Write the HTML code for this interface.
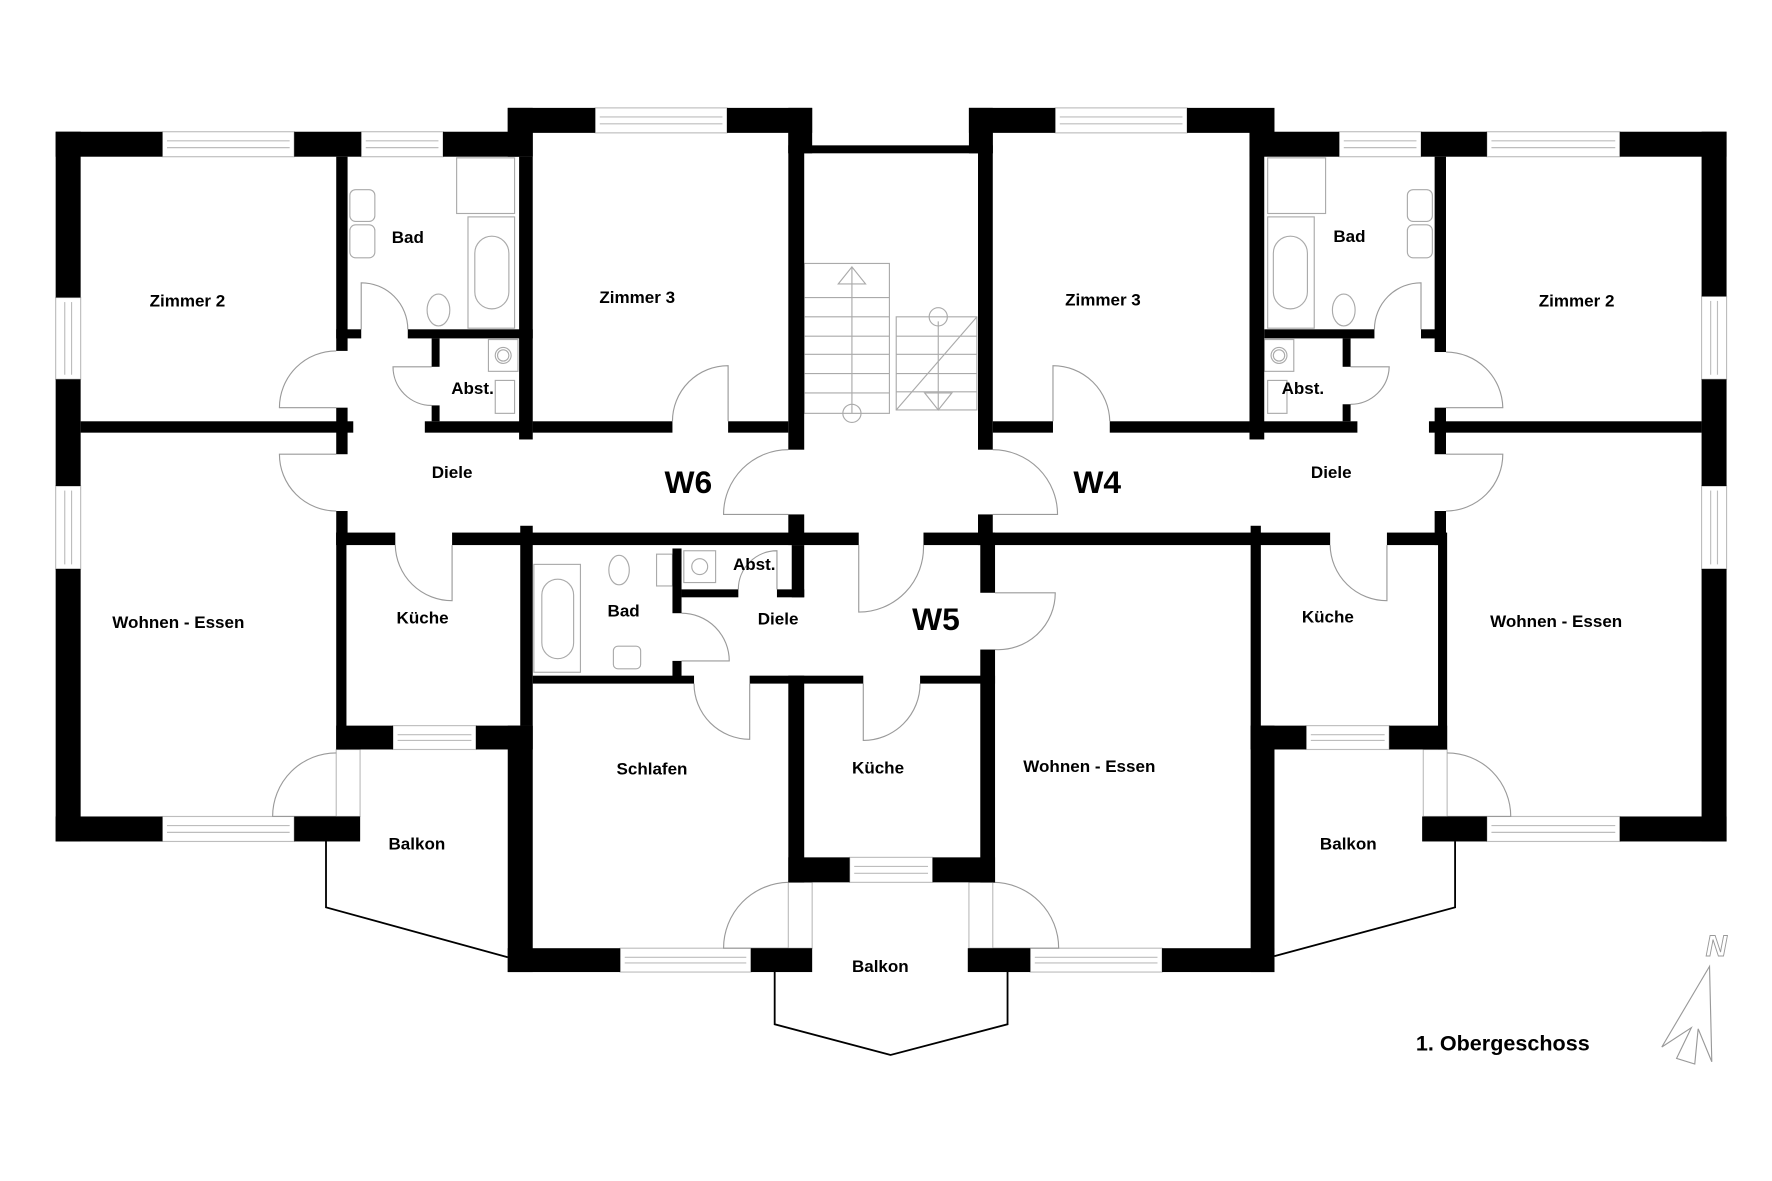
<!DOCTYPE html>
<html><head><meta charset="utf-8"><style>
html,body{margin:0;padding:0;background:#fff;}
svg{display:block;}
text{font-family:"Liberation Sans",Arial,sans-serif;font-weight:bold;fill:#000;}
</style></head><body>
<svg width="1772" height="1181" viewBox="0 0 1560 1040" preserveAspectRatio="none" xmlns="http://www.w3.org/2000/svg">
<rect width="1560" height="1040" fill="#fff"/>
<!-- windows (gray) -->
<g fill="none" stroke="#bdbdbd" stroke-width="1">
<rect x="143" y="116" width="116" height="22"/><line x1="147" y1="124" x2="255" y2="124"/><line x1="147" y1="130" x2="255" y2="130"/>
<rect x="318" y="116" width="72" height="22"/><line x1="322" y1="124" x2="386" y2="124"/><line x1="322" y1="130" x2="386" y2="130"/>
<rect x="524" y="95" width="116" height="22"/><line x1="528" y1="103" x2="636" y2="103"/><line x1="528" y1="109" x2="636" y2="109"/>
<rect x="929" y="95" width="116" height="22"/><line x1="933" y1="103" x2="1041" y2="103"/><line x1="933" y1="109" x2="1041" y2="109"/>
<rect x="1179" y="116" width="72" height="22"/><line x1="1183" y1="124" x2="1247" y2="124"/><line x1="1183" y1="130" x2="1247" y2="130"/>
<rect x="1309" y="116" width="117" height="22"/><line x1="1313" y1="124" x2="1422" y2="124"/><line x1="1313" y1="130" x2="1422" y2="130"/>
<rect x="49" y="262" width="22" height="72"/><line x1="57" y1="266" x2="57" y2="330"/><line x1="63" y1="266" x2="63" y2="330"/>
<rect x="49" y="428" width="22" height="73"/><line x1="57" y1="432" x2="57" y2="497"/><line x1="63" y1="432" x2="63" y2="497"/>
<rect x="1498" y="261" width="22" height="73"/><line x1="1506" y1="265" x2="1506" y2="330"/><line x1="1512" y1="265" x2="1512" y2="330"/>
<rect x="1498" y="428" width="22" height="73"/><line x1="1506" y1="432" x2="1506" y2="497"/><line x1="1512" y1="432" x2="1512" y2="497"/>
<rect x="143" y="719" width="116" height="22"/><line x1="147" y1="727" x2="255" y2="727"/><line x1="147" y1="733" x2="255" y2="733"/>
<rect x="1309" y="719" width="117" height="22"/><line x1="1313" y1="727" x2="1422" y2="727"/><line x1="1313" y1="733" x2="1422" y2="733"/>
<rect x="346" y="639" width="73" height="21"/><line x1="350" y1="647" x2="415" y2="647"/><line x1="350" y1="652" x2="415" y2="652"/>
<rect x="1150" y="639" width="73" height="21"/><line x1="1154" y1="647" x2="1219" y2="647"/><line x1="1154" y1="652" x2="1219" y2="652"/>
<rect x="748" y="755" width="73" height="22"/><line x1="752" y1="763" x2="817" y2="763"/><line x1="752" y1="769" x2="817" y2="769"/>
<rect x="546" y="835" width="115" height="21"/><line x1="550" y1="843" x2="657" y2="843"/><line x1="550" y1="848" x2="657" y2="848"/>
<rect x="907" y="835" width="116" height="21"/><line x1="911" y1="843" x2="1019" y2="843"/><line x1="911" y1="848" x2="1019" y2="848"/>
<!-- door frames -->
<rect x="296" y="660" width="21" height="59"/><rect x="1253" y="660" width="21" height="59"/>
<rect x="694" y="777" width="21" height="58"/><rect x="853" y="777" width="21" height="58"/>
</g>
<!-- door arcs -->
<g fill="none" stroke="#9a9a9a" stroke-width="1">
<path d="M318,290 L318,249 A41,41 0 0 1 359,290"/>
<path d="M296,359 L246,359 A50,50 0 0 1 296,309"/>
<path d="M296,400 L246,400 A50,50 0 0 0 296,450"/>
<path d="M380,323 L346,323 A34,34 0 0 0 380,357"/>
<path d="M641,371 L641,322 A49,49 0 0 0 592,371"/>
<path d="M694,453 L637,453 A57,57 0 0 1 694,396"/>
<path d="M874,453 L931,453 A57,57 0 0 0 874,396"/>
<path d="M927,371 L927,322 A50,50 0 0 1 977,371"/>
<path d="M1251,290 L1251,249 A41,41 0 0 0 1210,290"/>
<path d="M1189,323 L1223,323 A34,34 0 0 1 1189,356"/>
<path d="M1273,359 L1323,359 A50,50 0 0 0 1273,310"/>
<path d="M1273,400 L1323,400 A50,50 0 0 1 1273,450"/>
<path d="M398,480 L398,529 A50,50 0 0 1 348,480"/>
<path d="M1221,480 L1221,529 A50,50 0 0 1 1171,480"/>
<path d="M756,480 L756,539 A57,57 0 0 0 813,480"/>
<path d="M600,582 L642,582 A42,42 0 0 0 600,540"/>
<path d="M684,519 L684,485 A34,34 0 0 0 650,519"/>
<path d="M660,602 L660,651 A49,49 0 0 1 611,602"/>
<path d="M760,602 L760,652 A50,50 0 0 0 810,602"/>
<path d="M876,522 L929,522 A50,50 0 0 1 876,572"/>
<path d="M296,719 L240,719 A56,56 0 0 1 296,663"/>
<path d="M1274,719 L1330,719 A56,56 0 0 0 1274,663"/>
<path d="M694,835 L637,835 A58,58 0 0 1 694,777"/>
<path d="M874,835 L932,835 A58,58 0 0 0 874,777"/>
</g>
<!-- fixtures left bath (mirrored for right) -->
<g id="fx" fill="none" stroke="#aaa" stroke-width="1">
<rect x="402" y="139" width="51" height="49"/>
<rect x="412" y="191" width="41" height="98"/>
<rect x="418" y="208" width="30" height="64" rx="15"/>
<rect x="308" y="167" width="22" height="28" rx="5"/>
<rect x="308" y="198" width="22" height="29" rx="5"/>
<ellipse cx="386" cy="273" rx="10" ry="14"/>
<rect x="430" y="299" width="26" height="28"/>
<circle cx="443" cy="313" r="7"/><circle cx="443" cy="313" r="5"/>
<rect x="436" y="335" width="17" height="29"/>
</g>
<use href="#fx" transform="matrix(-1,0,0,1,1569,0)"/>
<g fill="none" stroke="#aaa" stroke-width="1">
<rect x="470" y="497" width="41" height="95"/>
<rect x="477" y="510" width="28" height="70" rx="14"/>
<ellipse cx="545" cy="502" rx="9" ry="13"/>
<rect x="540" y="569" width="24" height="20" rx="4"/>
<rect x="578" y="488" width="14" height="28"/>
<rect x="602" y="485" width="28" height="28"/>
<circle cx="616" cy="499" r="7"/>
<!-- stairs -->
<rect x="708" y="232" width="75" height="132"/>
<line x1="708" y1="262" x2="783" y2="262"/><line x1="708" y1="279" x2="783" y2="279"/><line x1="708" y1="296" x2="783" y2="296"/><line x1="708" y1="312" x2="783" y2="312"/><line x1="708" y1="329" x2="783" y2="329"/><line x1="708" y1="346" x2="783" y2="346"/>
<line x1="750" y1="235" x2="750" y2="364"/><path d="M738,250 L750,235 L762,250 Z"/><circle cx="750" cy="364" r="8"/>
<rect x="789" y="279" width="71" height="82"/>
<line x1="789" y1="296" x2="860" y2="296"/><line x1="789" y1="312" x2="860" y2="312"/><line x1="789" y1="329" x2="860" y2="329"/><line x1="789" y1="345" x2="860" y2="345"/>
<line x1="789" y1="361" x2="860" y2="279"/><line x1="826" y1="283" x2="826" y2="361"/><circle cx="826" cy="279" r="8"/><path d="M814,346 L826,361 L838,346 Z"/>
</g>
<!-- walls -->
<g fill="#000">
<rect x="49" y="116" width="94" height="22"/><rect x="259" y="116" width="59" height="22"/><rect x="390" y="116" width="79" height="22"/>
<rect x="447" y="95" width="77" height="22"/><rect x="447" y="95" width="22" height="43"/><rect x="640" y="95" width="75" height="22"/>
<rect x="49" y="116" width="22" height="146"/><rect x="49" y="334" width="22" height="94"/><rect x="49" y="501" width="22" height="240"/>
<rect x="49" y="719" width="94" height="22"/><rect x="259" y="719" width="58" height="22"/><rect x="264" y="719" width="53" height="21"/>
<rect x="296" y="138" width="10" height="171"/><rect x="296" y="359" width="10" height="41"/><rect x="296" y="450" width="10" height="30"/>
<rect x="71" y="371" width="240" height="10"/>
<rect x="296" y="290" width="22" height="8"/><rect x="359" y="290" width="110" height="8"/>
<rect x="380" y="298" width="7" height="25"/><rect x="380" y="357" width="7" height="14"/><rect x="374" y="371" width="95" height="10"/>
<rect x="457" y="138" width="12" height="249"/>
<rect x="469" y="371" width="123" height="10"/><rect x="641" y="371" width="53" height="10"/>
<rect x="694" y="95" width="21" height="40"/><rect x="694" y="117" width="14" height="279"/><rect x="694" y="453" width="14" height="27"/>
<rect x="694" y="128" width="180" height="7"/>
<rect x="853" y="95" width="21" height="40"/><rect x="861" y="117" width="13" height="279"/><rect x="861" y="453" width="13" height="27"/>
<rect x="853" y="95" width="76" height="22"/><rect x="1045" y="95" width="77" height="22"/>
<rect x="1100" y="116" width="13" height="271"/>
<rect x="1100" y="116" width="79" height="22"/><rect x="1251" y="116" width="58" height="22"/><rect x="1426" y="116" width="94" height="22"/>
<rect x="1498" y="116" width="22" height="145"/><rect x="1498" y="334" width="22" height="94"/><rect x="1498" y="501" width="22" height="240"/>
<rect x="1426" y="719" width="94" height="22"/><rect x="1252" y="719" width="57" height="22"/>
<rect x="874" y="371" width="53" height="10"/><rect x="977" y="371" width="123" height="10"/>
<rect x="1113" y="290" width="97" height="8"/><rect x="1251" y="290" width="22" height="8"/>
<rect x="1263" y="138" width="10" height="172"/><rect x="1263" y="359" width="10" height="41"/><rect x="1263" y="450" width="10" height="30"/>
<rect x="1258" y="371" width="240" height="10"/>
<rect x="1182" y="298" width="7" height="25"/><rect x="1182" y="356" width="7" height="15"/><rect x="1100" y="371" width="95" height="10"/>
<rect x="296" y="469" width="52" height="11"/><rect x="398" y="469" width="358" height="11"/><rect x="813" y="469" width="358" height="11"/><rect x="1221" y="469" width="52" height="11"/>
<rect x="296" y="469" width="9" height="191"/><rect x="458" y="463" width="11" height="176"/>
<rect x="296" y="639" width="50" height="21"/><rect x="419" y="639" width="50" height="21"/>
<rect x="447" y="639" width="22" height="217"/>
<rect x="592" y="483" width="8" height="57"/><rect x="592" y="582" width="8" height="14"/>
<rect x="697" y="480" width="11" height="46"/><rect x="600" y="519" width="50" height="7"/><rect x="684" y="519" width="24" height="7"/>
<rect x="469" y="595" width="142" height="7"/><rect x="660" y="595" width="100" height="7"/><rect x="810" y="595" width="66" height="7"/>
<rect x="694" y="595" width="14" height="182"/>
<rect x="863" y="469" width="13" height="53"/><rect x="863" y="572" width="13" height="205"/>
<rect x="694" y="755" width="54" height="22"/><rect x="821" y="755" width="55" height="22"/>
<rect x="447" y="835" width="99" height="21"/><rect x="661" y="835" width="54" height="21"/>
<rect x="852" y="835" width="55" height="21"/><rect x="1023" y="835" width="99" height="21"/>
<rect x="1101" y="463" width="9" height="197"/><rect x="1101" y="639" width="21" height="217"/>
<rect x="1266" y="469" width="8" height="191"/>
<rect x="1101" y="639" width="49" height="21"/><rect x="1223" y="639" width="51" height="21"/>
</g>
<!-- balcony railings -->
<g fill="none" stroke="#000" stroke-width="1.6">
<polyline points="287,740 287,799 447,843"/>
<polyline points="1281,741 1281,799 1122,842"/>
<polyline points="682,856 682,902 784,929 887,902 887,856"/>
</g>
<!-- north arrow -->
<g fill="none" stroke="#999" stroke-width="1">
<path d="M1505,851 L1463,922 L1489,905 L1476,932 L1492,937 L1495,906 L1507,935 Z"/>
</g>
<text x="1511" y="842" font-family="Liberation Serif,serif" font-style="italic" font-weight="normal" font-size="26" fill="none" stroke="#999" stroke-width="0.8" text-anchor="middle" style="fill:none">N</text>
<!-- labels -->
<g font-size="15" text-anchor="middle">
<text x="165" y="270">Zimmer 2</text>
<text x="359" y="214">Bad</text>
<text x="416" y="347">Abst.</text>
<text x="561" y="267">Zimmer 3</text>
<text x="398" y="421">Diele</text>
<text x="971" y="269">Zimmer 3</text>
<text x="1188" y="213">Bad</text>
<text x="1147" y="347">Abst.</text>
<text x="1388" y="270">Zimmer 2</text>
<text x="1172" y="421">Diele</text>
<text x="157" y="553">Wohnen - Essen</text>
<text x="372" y="549">Küche</text>
<text x="549" y="543">Bad</text>
<text x="664" y="502">Abst.</text>
<text x="685" y="550">Diele</text>
<text x="1169" y="548">Küche</text>
<text x="1370" y="552">Wohnen - Essen</text>
<text x="574" y="682">Schlafen</text>
<text x="773" y="681">Küche</text>
<text x="959" y="680">Wohnen - Essen</text>
<text x="367" y="748">Balkon</text>
<text x="1187" y="748">Balkon</text>
<text x="775" y="856">Balkon</text>
</g>
<g font-size="28" text-anchor="middle">
<text x="606" y="434">W6</text>
<text x="966" y="434">W4</text>
<text x="824" y="555">W5</text>
</g>
<text x="1323" y="925" font-size="19" text-anchor="middle">1. Obergeschoss</text>
</svg>
</body></html>
